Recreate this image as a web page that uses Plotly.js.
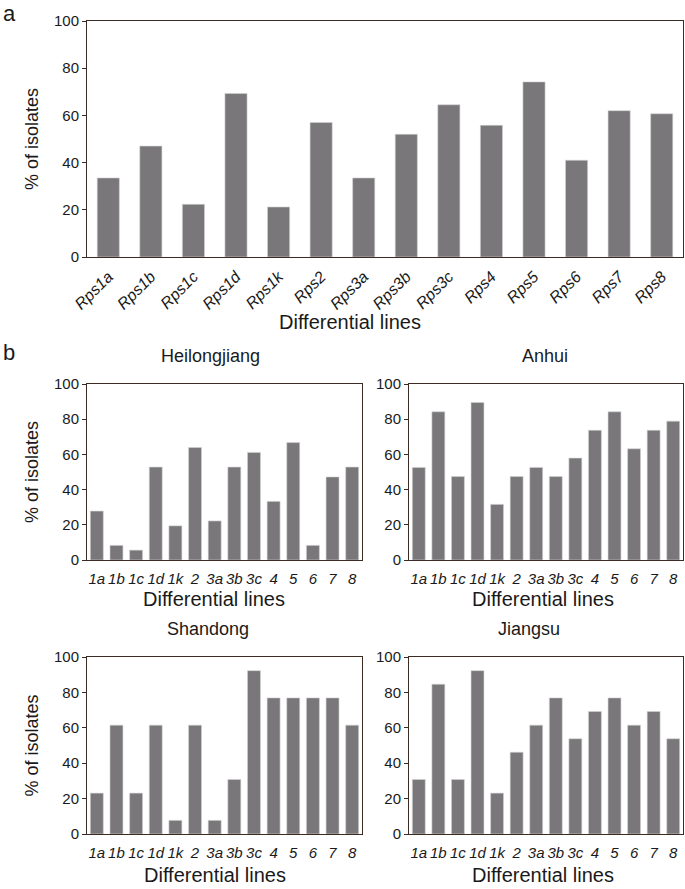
<!DOCTYPE html>
<html>
<head>
<meta charset="utf-8">
<script src="https://cdn.plot.ly/plotly-3.0.1.min.js"></script>
<style>html,body{margin:0;padding:0;background:#fff;}#chart{width:685px;height:889px;}</style>
</head>
<body>
<div id="chart"></div>
<script>
// ---- data ----
const topCategories = ['Rps1a','Rps1b','Rps1c','Rps1d','Rps1k','Rps2','Rps3a','Rps3b','Rps3c','Rps4','Rps5','Rps6','Rps7','Rps8'];
const topValues = [33.5, 47.0, 22.3, 69.3, 21.2, 57.0, 33.5, 52.0, 64.5, 55.8, 74.2, 41.0, 62.0, 60.7];

const regionCategories = ['1a','1b','1c','1d','1k','2','3a','3b','3c','4','5','6','7','8'];
const heilongjiang = [27.8, 8.3, 5.6, 52.8, 19.4, 63.9, 22.2, 52.8, 61.1, 33.3, 66.7, 8.3, 47.2, 52.8];
const anhui        = [52.6, 84.2, 47.4, 89.5, 31.6, 47.4, 52.6, 47.4, 57.9, 73.7, 84.2, 63.2, 73.7, 78.9];
const shandong     = [23.1, 61.5, 23.1, 61.5, 7.7, 61.5, 7.7, 30.8, 92.3, 76.9, 76.9, 76.9, 76.9, 61.5];
const jiangsu      = [30.8, 84.6, 30.8, 92.3, 23.1, 46.2, 61.5, 76.9, 53.8, 69.2, 76.9, 61.5, 69.2, 53.8];

const regionNames = ['Heilongjiang','Anhui','Shandong','Jiangsu'];
const yTickVals = [0,20,40,60,80,100];
const xTitleText = 'Differential lines';
const yTitleText = '% of isolates';

// ---- layout helpers ----
const W = 685, H = 889;
const px = x => x / W;
const py = y => 1 - y / H;
const FONT = '"Liberation Sans", Arial, Helvetica, sans-serif';
const BAR = '#79777a';
const LINE = '#3b2b23';
const TXT = '#1a1a1a';

function barTrace(cats, vals, xa, ya, w) {
  return {
    type: 'bar', x: cats, y: vals, xaxis: xa, yaxis: ya, width: w,
    marker: {color: BAR, line: {color: '#d4d4d4', width: 0.6}},
    hoverinfo: 'x+y', showlegend: false
  };
}

const data = [
  barTrace(topCategories, topValues, 'x', 'y', 0.52),
  barTrace(regionCategories, heilongjiang, 'x2', 'y2', 0.66),
  barTrace(regionCategories, anhui, 'x3', 'y3', 0.66),
  barTrace(regionCategories, shandong, 'x4', 'y4', 0.66),
  barTrace(regionCategories, jiangsu, 'x5', 'y5', 0.66)
];

function xAxis(dom, anchor, tickfont, extra) {
  return Object.assign({
    domain: dom, anchor: anchor, type: 'category',
    showline: true, mirror: true, linecolor: LINE, linewidth: 1,
    ticks: 'outside', ticklen: 5, tickcolor: 'rgba(0,0,0,0)',
    showgrid: false, zeroline: false,
    tickfont: tickfont
  }, extra || {});
}
function yAxis(dom, anchor, withTitle) {
  const a = {
    domain: dom, anchor: anchor, range: [0, 100], tickvals: yTickVals,
    showline: true, mirror: true, linecolor: LINE, linewidth: 1,
    ticks: 'outside', ticklen: 4, tickcolor: LINE, showgrid: false, zeroline: false,
    tickfont: {family: FONT, size: 15, color: TXT}
  };
  if (withTitle) a.title = {text: yTitleText, font: {family: FONT, size: 18, color: TXT}, standoff: 10};
  return a;
}

const rowTop = [py(257), py(21)];
const row1 = [py(560), py(384)];
const row2 = [py(834), py(657)];
const colL = [px(87), px(362)];
const colR = [px(409), px(683)];
const bigX = [px(87), px(683)];

const subTickFont = {family: FONT, size: 15, color: TXT, style: 'italic'};

function label(text, x, y, size, anchor) {
  return {text: text, x: px(x), y: py(y), xref: 'paper', yref: 'paper',
          xanchor: anchor || 'center', yanchor: 'middle', showarrow: false,
          font: {family: FONT, size: size, color: TXT}};
}

const layout = {
  width: W, height: H,
  margin: {l: 0, r: 0, t: 0, b: 0},
  paper_bgcolor: '#fff', plot_bgcolor: '#fff',
  font: {family: FONT, color: TXT},
  showlegend: false,
  xaxis: xAxis(bigX, 'y', {family: FONT, size: 16, color: TXT, style: 'italic'}, {tickangle: -45, ticklen: 3}),
  yaxis: yAxis(rowTop, 'x', true),
  xaxis2: xAxis(colL, 'y2', subTickFont),
  yaxis2: yAxis(row1, 'x2', true),
  xaxis3: xAxis(colR, 'y3', subTickFont),
  yaxis3: yAxis(row1, 'x3', false),
  xaxis4: xAxis(colL, 'y4', subTickFont),
  yaxis4: yAxis(row2, 'x4', true),
  xaxis5: xAxis(colR, 'y5', subTickFont),
  yaxis5: yAxis(row2, 'x5', false),
  annotations: [
    label('a', 1, 13, 22, 'left'),
    label('b', 1, 352, 22, 'left'),
    label(regionNames[0], 210, 356, 18),
    label(regionNames[1], 545, 356, 18),
    label(regionNames[2], 208, 629, 18),
    label(regionNames[3], 529, 629, 18),
    label(xTitleText, 350, 322, 20),
    label(xTitleText, 214, 599, 20),
    label(xTitleText, 543, 599, 20),
    label(xTitleText, 215, 875, 20),
    label(xTitleText, 543, 875, 20)
  ]
};

Plotly.newPlot('chart', data, layout, {displayModeBar: false, staticPlot: true});
</script>
</body>
</html>
